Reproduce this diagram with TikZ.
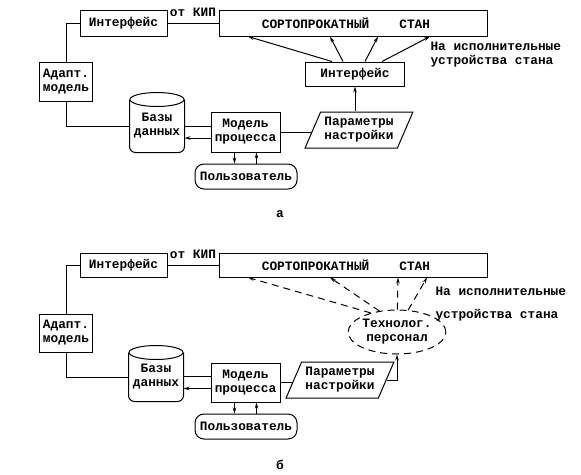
\documentclass[tikz,border=0pt]{standalone}
\usepackage{fontspec}
\setmainfont{Liberation Mono}
\usetikzlibrary{arrows.meta,shapes.geometric}

\begin{document}
\begin{tikzpicture}[x=1pt,y=-1pt,line width=1pt,
    font=\fontsize{12.8pt}{14pt}\selectfont\bfseries,
    >={Stealth[length=6pt,width=3.5pt]},
    blok/.style={draw,align=center,inner sep=1pt},
    basa/.style={align=center,inner sep=1pt,minimum width=54pt},
    polz/.style={draw,rounded corners=9pt,minimum width=102pt,minimum height=25pt,inner sep=1pt},
    param/.style={draw,trapezium,trapezium left angle=62,trapezium right angle=118,
      trapezium stretches=true,minimum width=108pt,minimum height=36pt,align=center,inner sep=1pt},
    person/.style={draw,ellipse,dash pattern=on 7pt off 5pt,minimum width=91pt,minimum height=44pt,
      align=center,inner sep=0pt},
    punkt/.style={dash pattern=on 7pt off 5pt}]
  \useasboundingbox (0,0) rectangle (581,474);

  % --- a
  \node[blok,minimum width=87pt,minimum height=26pt] (intfA) at (123.5,23) {Интерфейс};
  \node[blok,minimum width=268pt,minimum height=26pt] (stanA) at (353,23)
    {СОРТОПРОКАТНЫЙ\hspace{30pt}СТАН\hspace{14pt}};
  \node[blok,minimum width=53pt,minimum height=39pt] (adaptA) at (66,81.5) {Адапт.\\модель};
  \node[basa,minimum height=52pt] (bdA) at (157,126) {Базы\\данных};
  \draw[rounded corners=6pt] (bdA.north west) -- (bdA.south west) -- (bdA.south east) -- (bdA.north east);
  \draw (bdA.north) ellipse (27pt and 7pt);
  \node[blok,minimum width=69pt,minimum height=40pt] (modelA) at (245.5,132) {Модель\\процесса};
  \node[polz] (userA) at (246,176.5) {Пользователь};
  \node[param] (paramA) at (359,130) {Параметры\\настройки};
  \node[blok,minimum width=99pt,minimum height=24pt] (intf2A) at (355,74) {Интерфейс};
  \node[align=left,anchor=west,inner sep=0pt] (ispA) at (430,55) {На исполнительные\\устройства стана};

  \draw (intfA) -- node[above,inner sep=6pt] (kipA) {от КИП} (stanA);
  \draw (intfA.west) -| (adaptA.north);
  \draw (adaptA.south) |- (bdA.west);
  \draw ([yshift=6pt]modelA.west) -- ([yshift=6pt]modelA.west -| bdA.east);
  \draw[->] ([yshift=-6pt]modelA.west) -- ([yshift=-6pt]modelA.west -| bdA.east);
  \draw[->] ([xshift=-11pt]modelA.south) -- ([xshift=-11pt]modelA.south |- userA.north);
  \draw[->] ([xshift=11pt]modelA.south |- userA.north) -- ([xshift=11pt]modelA.south);
  \draw (modelA.east) -- (modelA.east -| paramA.west);
  \draw[->] (intf2A.south |- paramA.north) -- (intf2A.south);
  \foreach \a/\b in {-23/-105, -12/-23, 10/25, 27/77}
    \draw[->] ([xshift=\a pt]intf2A.north) -- ([xshift=\b pt]stanA.south);
  \node (capA) at (280,214) {а};

  % --- b
  \node[blok,minimum width=87pt,minimum height=24pt] (intfB) at (123.5,265) {Интерфейс};
  \node[blok,minimum width=268pt,minimum height=24pt] (stanB) at (353,265)
    {СОРТОПРОКАТНЫЙ\hspace{30pt}СТАН\hspace{14pt}};
  \node[blok,minimum width=53pt,minimum height=38pt] (adaptB) at (66,333) {Адапт.\\модель};
  \node[basa,minimum height=48pt] (bdB) at (156,377) {Базы\\данных};
  \draw[rounded corners=6pt] (bdB.north west) -- (bdB.south west) -- (bdB.south east) -- (bdB.north east);
  \draw (bdB.north) ellipse (27pt and 7pt);
  \node[blok,minimum width=69pt,minimum height=39pt] (modelB) at (245.5,382.5) {Модель\\процесса};
  \node[polz] (userB) at (246,426.5) {Пользователь};
  \node[param] (paramB) at (340,380) {Параметры\\настройки};
  \node[person] (techB) at (397,332) {Технолог.\\персонал};
  \node[align=left,anchor=west,inner sep=0pt] (ispB) at (435,304) {На исполнительные\\[9pt]устройства стана};

  \draw (intfB) -- node[above,inner sep=6pt] (kipB) {от КИП} (stanB);
  \draw (intfB.west) -| (adaptB.north);
  \draw (adaptB.south) |- (bdB.west);
  \draw ([yshift=6pt]modelB.west) -- ([yshift=6pt]modelB.west -| bdB.east);
  \draw[->] ([yshift=-6pt]modelB.west) -- ([yshift=-6pt]modelB.west -| bdB.east);
  \draw[->] ([xshift=-11pt]modelB.south) -- ([xshift=-11pt]modelB.south |- userB.north);
  \draw[->] ([xshift=11pt]modelB.south |- userB.north) -- ([xshift=11pt]modelB.south);
  \draw (modelB.east) -- (modelB.east -| paramB.west);
  \draw[->] (paramB.east) -| (techB.south);
  \foreach \a/\b in {144/-105, 130/-23, 89/45, 63/74}
    \draw[punkt,->] (techB.\a) -- ([xshift=\b pt]stanB.south);
  \node (capB) at (280,465) {б};
\end{tikzpicture}
\end{document}
